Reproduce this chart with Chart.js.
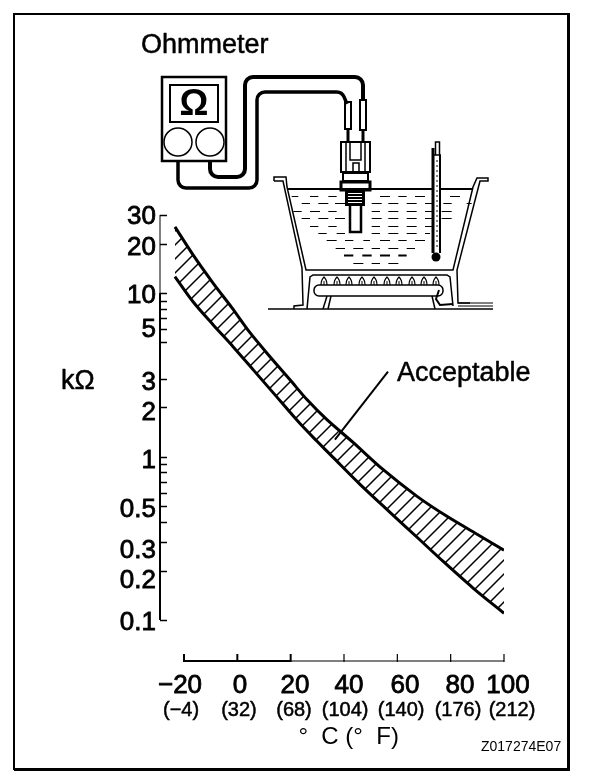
<!DOCTYPE html>
<html>
<head>
<meta charset="utf-8">
<style>html,body{margin:0;padding:0;background:#fff}canvas{display:block}</style>
<script src="https://cdn.jsdelivr.net/npm/chart.js@4"></script>
</head>
<body>
<canvas id="c" width="608" height="780"></canvas>
<script>
// Temperature (deg C) and resistance (kOhm)
const upperTemp = [-23.4,-16.6,-9.1,-2,4.75,12.25,19.75,26.1,33.6,43.4,54.6,67.4,78.6,89.9,100];
const upperKohm = [25.4,17.1,11.5,8.12,5.72,4.08,2.95,2.23,1.68,1.22,0.834,0.571,0.431,0.335,0.267];
const lowerTemp = [-23.4,-16.6,-9.1,-1.6,5.9,13.4,23.5,29.9,35.9,46,57.25,67.4,77.1,88.4,100];
const lowerKohm = [12.6,8.84,6.40,4.70,3.40,2.46,1.59,1.24,0.988,0.676,0.456,0.321,0.229,0.157,0.110];
// Leader from the "Acceptable" label into the band
const leaderTemp = [56.5,36.6];
const leaderKohm = [3.31,1.27];

const xTempC = [-20,0,20,40,60,80,100];
const xLabelsC = ['\u221220','0','20','40','60','80','100'];
const xLabelsF = ['(\u22124)','(32)','(68)','(104)','(140)','(176)','(212)'];
// The printed labels do not all sit on their own tick: where each one sits on the scale
const xLabelAtC = [-21.5,1,21.6,41.9,62.9,83.5,101.5];
const xLabelAtF = [-21.1,0.6,21.25,40.4,61.4,82.75,103];
// Tick marks on the resistance axis
const yMarks = [30,20,10,9,8,7,6,5,3,2,1,0.9,0.8,0.7,0.6,0.5,0.4,0.3,0.2,0.1];
const yLabelAt = [29.2,18.9,9.62,5.96,2.83,1.86,0.947,0.469,0.264,0.175,0.096];
const yLabels = ['30','20','10','5','3','2','1','0.5','0.3','0.2','0.1'];

const FONT = '"Liberation Sans", Arial, sans-serif';
const INK = '#000';
Chart.defaults.font.family = FONT;
Chart.defaults.color = INK;

function hatch(){
  const t = document.createElement('canvas'); t.width = 14; t.height = 14;
  const g = t.getContext('2d');
  g.strokeStyle = INK; g.lineWidth = 1.5;
  g.beginPath();
  g.moveTo(-2,16); g.lineTo(16,-2);
  g.moveTo(-2,2); g.lineTo(2,-2);
  g.moveTo(12,16); g.lineTo(16,12);
  g.stroke();
  return g.createPattern(t,'repeat');
}
function zip(a,b){ return a.map((x,i)=>({x:x,y:b[i]})); }

function line(c,pts,w){
  c.lineWidth = w; c.beginPath();
  pts.forEach((p,i)=> i? c.lineTo(p[0],p[1]) : c.moveTo(p[0],p[1]));
  c.stroke();
}
function cable(c,pts,w,r){
  c.lineWidth = w; c.beginPath(); c.moveTo(pts[0][0],pts[0][1]);
  for(let i=1;i<pts.length-1;i++) c.arcTo(pts[i][0],pts[i][1],pts[i+1][0],pts[i+1][1],r);
  const e = pts[pts.length-1]; c.lineTo(e[0],e[1]); c.stroke();
}
function text(c,s,x,y,w){
  c.lineWidth = w; c.lineJoin='round';
  c.strokeText(s,x,y); c.fillText(s,x,y);
}

function drawIllustration(c){
  c.save();
  c.strokeStyle = INK; c.fillStyle = INK; c.lineCap='butt'; c.lineJoin='miter';
  // meter
  c.lineWidth = 2.5; c.strokeRect(162,77,64,84);
  c.lineWidth = 2; c.strokeRect(170,85,48,37);
  c.lineWidth = 1.5;
  [178,210].forEach(x=>{c.beginPath();c.arc(x,142,14,0,Math.PI*2);c.stroke();});
  c.font = 'bold 36px '+FONT; c.textAlign='center'; c.textBaseline='middle';
  c.fillText('\u03A9',194,105);
  // cables
  cable(c,[[178,161],[178,188],[257,188],[257,92],[342,92],[347,104]],3.5,8);
  cable(c,[[210,161],[210,177],[245,177],[245,77],[363,77],[363,100]],4,8);
  // probes
  c.lineWidth = 2;
  c.strokeRect(345,102,6,27); c.strokeRect(360,100,6,30);
  line(c,[[348,129],[348,143]],3); line(c,[[363,130],[363,143]],3);
  // connector and sensor
  c.lineWidth = 2;
  c.strokeRect(341,142,29,30);
  line(c,[[346,142],[346,172]],1.5); line(c,[[365,142],[365,172]],1.5);
  line(c,[[350,142],[350,160],[361,160],[361,142]],1.5);
  c.strokeRect(353,163,6,9);
  c.lineWidth = 2;
  c.strokeRect(343,173,25,8);
  c.lineWidth = 3;
  c.strokeRect(341,182,29,8);
  c.fillStyle = INK; c.fillRect(345,191,20,15);
  c.fillStyle = '#fff';
  for(let i=0;i<4;i++) c.fillRect(348,193+i*3,14,1);
  c.fillStyle = '#fff'; c.fillRect(350,206,11,26);
  c.lineWidth = 2; line(c,[[350,206],[350,232],[361,232],[361,206]],2.5);
  c.fillStyle = INK;
  // bath
  line(c,[[274,181],[283,181],[302,268],[303,305],[294,306],[294,309]],1.5);
  line(c,[[274,181],[274,177],[286,177],[287,187],[306,270],[453,270],[473,187],[477,178],[488,178],[488,181],[480,181],[457,270],[458,303],[470,303]],1.5);
  line(c,[[287,189],[473,189]],2);
  // floor and gas pipe
  line(c,[[268,309],[493,309]],1.5);
  line(c,[[458,303],[493,303]],1);
  line(c,[[458,306],[493,306]],1);
  // burner stand
  line(c,[[307,309],[310,277],[313,275],[447,275],[450,277],[453,306]],1.5);
  c.lineWidth = 1.5; c.beginPath(); c.roundRect(314,285,129,11,5); c.stroke();
  line(c,[[327,296],[323,309]],1.5); line(c,[[331,296],[328,309]],1.5);
  line(c,[[432,296],[435,309]],1.5);
  line(c,[[439,290],[436,299],[440,305],[453,304]],2);
  [324,337,349,362,374,387,399,412,424,436].forEach(x=>{
    c.lineWidth = 1.2; c.beginPath();
    c.moveTo(x-3,285); c.quadraticCurveTo(x-3,280,x,277); c.quadraticCurveTo(x+3,280,x+3,285); c.stroke();
    line(c,[[x,281],[x,285]],1);
  });
  // water dashes [y, x0, x1, x0, x1 ...] in 3x crop units from (270,170)
  const rows = [
    [78,65,85,120,145,175,200,330,360,385,410,435,465,540,570],
    [100,95,120,145,175,195,225,305,335,355,385,410,440,465,490,520,545,590,605],
    [123,70,95,120,150,175,200,305,330,355,385,410,440,465,490,515,545],
    [145,95,120,145,175,195,225,305,335,355,385,410,440,465,490,515,545],
    [167,120,145,175,200,305,330,355,385,410,440,465,490],
    [188,145,170,200,225,305,330,355,385,410,440,465,480],
    [211,170,200,225,250,280,300,330,360,385,410,435,465],
    [234,197,225,250,280,305,330,355,385,410,435],
    [280,250,280,305,330,355,385]
  ];
  c.lineWidth = 1;
  rows.forEach(r=>{
    const y = Math.round(170+r[0]/3)+0.5;
    for(let i=1;i<r.length;i+=2) line(c,[[270+r[i]/3,y],[270+r[i+1]/3,y]],1);
  });
  [[222,250],[277,305],[330,360],[385,410]].forEach(d=>line(c,[[270+d[0]/3,255.5],[270+d[1]/3,255.5]],2));
  // thermometer
  c.fillStyle='#fff'; c.fillRect(432,155,9,98); c.fillStyle=INK;
  line(c,[[435.5,155],[435.5,142],[439.5,142],[439.5,155]],1.5);
  line(c,[[433,148],[433,253]],3);
  line(c,[[440,155],[440,253]],2);
  line(c,[[432,155],[441,155]],1.5);
  c.setLineDash([2,3]); line(c,[[437,160],[437,250]],1); c.setLineDash([]);
  c.beginPath(); c.arc(436,257,4.5,0,Math.PI*2); c.fill();
  c.restore();
}

const overlay = {
  id:'overlay',
  beforeDatasetsDraw(chart){
    const c = chart.ctx, xs = chart.scales.x, ys = chart.scales.y;
    c.save();
    c.strokeStyle = INK; c.fillStyle = INK;
    // frame
    c.lineWidth = 2; c.beginPath();
    c.moveTo(569,14); c.lineTo(14,14); c.lineTo(14,770); c.stroke();
    c.lineWidth = 3; c.beginPath();
    c.moveTo(14,769.5); c.lineTo(568.5,769.5); c.lineTo(568.5,13); c.stroke();
    drawIllustration(c);
    // resistance axis: line and marks from its scale
    const ax = xs.left;
    const yTop = ys.getPixelForValue(30), yTen = ys.getPixelForValue(10), yEnd = ys.getPixelForValue(0.1);
    line(c,[[ax,yTop],[ax,yTen]],1);
    line(c,[[ax,yTen],[ax,yEnd]],2);
    yMarks.forEach(v=>{
      const y = Math.round(ys.getPixelForValue(v));
      line(c,[[ax,y+0.5],[ax+7,y+0.5]], 1.5);
    });
    // temperature axis: line and marks from its scale
    const by = ys.bottom;
    const x0 = xs.getPixelForValue(-20), x20 = xs.getPixelForValue(20), x100 = xs.getPixelForValue(100);
    line(c,[[x0,by],[x20,by]],2);
    line(c,[[x20,by],[x100,by]],1.2);
    xTempC.forEach(v=>{
      const x = xs.getPixelForValue(v);
      line(c,[[x,by+1],[x,by-7]], v<=20?2:1.2);
    });
    // free text
    c.textBaseline='middle'; c.textAlign='left';
    c.font = '27px '+FONT;
    text(c,'Ohmmeter',141,46,0.5);
    text(c,'Acceptable',397,374,0.5);
    text(c,'k\u03A9',61,382,0.5);
    c.font = '14px '+FONT; c.fillText('Z017274E07',481,747);
    c.restore();
  }
};

new Chart(document.getElementById('c'),{
  type:'line',
  data:{datasets:[
    {label:'Upper limit',data:zip(upperTemp,upperKohm),borderColor:INK,borderWidth:3,pointRadius:0,tension:0.3,fill:'+1',backgroundColor:hatch()},
    {label:'Lower limit',data:zip(lowerTemp,lowerKohm),borderColor:INK,borderWidth:3,pointRadius:0,tension:0.3,fill:false},
    {label:'Leader',data:zip(leaderTemp,leaderKohm),borderColor:INK,borderWidth:2,pointRadius:0,fill:false}
  ]},
  options:{
    responsive:false,animation:false,
    layout:{padding:{left:0,right:104,top:215,bottom:28}},
    plugins:{legend:{display:false},tooltip:{enabled:false},title:{display:false}},
    scales:{
      x:{
        type:'linear',min:-29,max:100,position:'bottom',weight:0,
        grid:{display:false,drawTicks:false},border:{display:false},
        afterBuildTicks:s=>{s.ticks=xLabelAtC.map(v=>({value:v}));},
        afterFit:s=>{s.height=34;},
        ticks:{font:{size:26},color:INK,padding:9,autoSkip:false,maxRotation:0,minRotation:0,
          textStrokeColor:INK,textStrokeWidth:0.8,
          callback:(v,i)=>xLabelsC[i]}
      },
      x2:{
        type:'linear',axis:'x',min:-29,max:100,position:'bottom',weight:1,
        grid:{display:false,drawTicks:false},border:{display:false},
        afterBuildTicks:s=>{s.ticks=xLabelAtF.map(v=>({value:v}));},
        afterFit:s=>{s.height=57;},
        ticks:{font:{size:20},color:INK,padding:3,autoSkip:false,maxRotation:0,minRotation:0,
          textStrokeColor:INK,textStrokeWidth:0.5,
          callback:(v,i)=>xLabelsF[i]},
        title:{display:true,text:'     \u00B0  C (\u00B0  F)',font:{size:24},color:INK,padding:0}
      },
      y:{
        type:'logarithmic',min:0.0562,max:30,position:'left',
        grid:{display:false,drawTicks:false},border:{display:false},
        afterBuildTicks:s=>{s.ticks=yLabelAt.map(v=>({value:v}));},
        afterFit:s=>{s.width=160;},
        ticks:{font:{size:26},color:INK,padding:4,autoSkip:false,
          textStrokeColor:INK,textStrokeWidth:0.8,
          callback:(v,i)=>yLabels[i]}
      }
    }
  },
  plugins:[overlay]
});
</script>
</body>
</html>
